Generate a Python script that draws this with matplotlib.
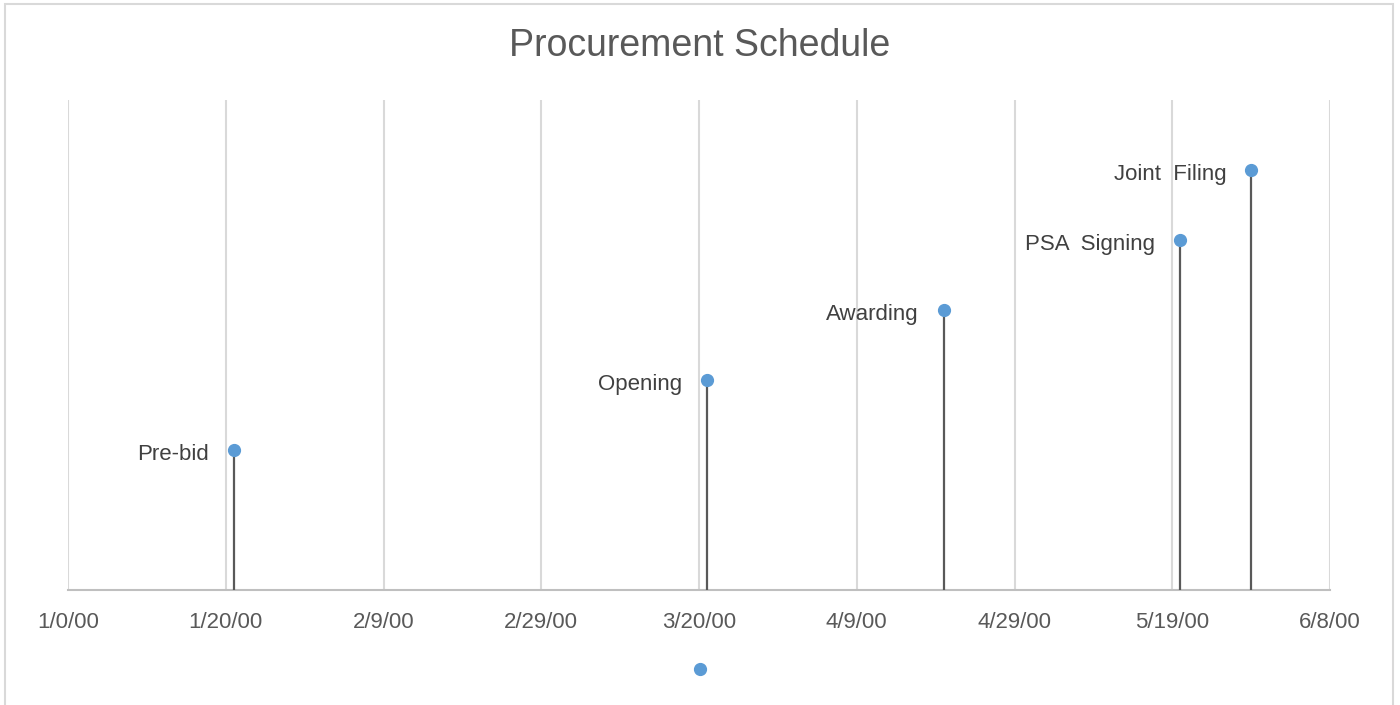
import matplotlib.pyplot as plt
from matplotlib.lines import Line2D
from matplotlib.patches import Rectangle

plt.rcParams['font.family'] = ['Liberation Sans', 'DejaVu Sans']

# milestones: day number counted from 1/0/00, and height of the stem
events = ['Pre-bid', 'Opening', 'Awarding', 'PSA  Signing', 'Joint  Filing']
days = [21, 81, 111, 141, 150]
heights = [2, 3, 4, 5, 6]

tick_days = [0, 20, 40, 60, 80, 100, 120, 140, 160]
tick_labels = ['1/0/00', '1/20/00', '2/9/00', '2/29/00', '3/20/00',
               '4/9/00', '4/29/00', '5/19/00', '6/8/00']

blue = '#5B9BD5'
grey = '#595959'

fig = plt.figure(figsize=(14, 7.05), dpi=100)
ax = fig.add_axes([68 / 1400, 1 - 590 / 705, (1330 - 68) / 1400, 490 / 705])

# chart border
fig.patches.append(Rectangle((5 / 1400, -0.01), 1388 / 1400, 1 - 4 / 705 + 0.01,
                             transform=fig.transFigure, fill=False,
                             edgecolor='#D9D9D9', lw=1.5))

ax.vlines(days, 0, heights, color=grey, lw=1.6, zorder=3)
ax.plot(days, heights, 'o', color=blue, ms=8.5, zorder=4)
for name, d, h in zip(events, days, heights):
    ax.annotate(name, (d, h), xytext=(-18, -3), textcoords='offset points',
                ha='right', va='center', fontsize=16, color='#404040')

ax.set_xlim(0, 160)
ax.set_ylim(0, 7)
ax.set_xticks(tick_days)
ax.set_xticklabels(tick_labels, fontsize=16, color=grey)
ax.tick_params(axis='x', length=0, pad=16)
ax.set_yticks([])
ax.grid(axis='x', color='#D9D9D9', lw=1.5)
ax.set_axisbelow(True)
for s in ['top', 'right', 'left']:
    ax.spines[s].set_visible(False)
ax.spines['bottom'].set_color('#BFBFBF')
ax.spines['bottom'].set_linewidth(1.5)

fig.suptitle('Procurement Schedule', fontsize=27, color=grey, y=1 - 46 / 705,
             va='center')

handle = Line2D([], [], ls='none', marker='o', color=blue, ms=8.5)
fig.legend([handle], [''], loc='center', bbox_to_anchor=(700 / 1400, 1 - 670 / 705),
           frameon=False, handlelength=0.8, handletextpad=0, borderpad=0)

fig.savefig('out.png', dpi=100)
